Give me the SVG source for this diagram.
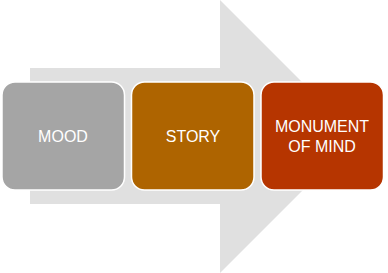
<svg xmlns="http://www.w3.org/2000/svg" width="388" height="273" viewBox="0 0 388 273">
<style>
.box{stroke:#ffffff;stroke-width:1.5}
.lbl{font-family:"Liberation Sans","Open Sans",sans-serif;font-size:16px;fill:#ffffff;text-anchor:middle}
</style>
<rect width="388" height="273" fill="#ffffff"/>
<g id="arrow">
<polygon points="30,68 220,68 220,0 356.5,136.5 220,273 220,204 30,204" fill="#e0e0e0"/>
</g>
<g id="connectors"></g>
<g id="mood">
<rect class="box" x="2" y="82" width="122.5" height="108" rx="13" fill="#a5a5a5"/>
<text class="lbl" x="63" y="142">MOOD</text>
</g>
<g id="story">
<rect class="box" x="131.5" y="82" width="122.5" height="108" rx="13" fill="#ae6400"/>
<text class="lbl" x="193" y="142">STORY</text>
</g>
<g id="monument">
<rect class="box" x="261" y="82" width="122.5" height="108" rx="13" fill="#b63500"/>
<text class="lbl" x="322" y="132">MONUMENT</text>
<text class="lbl" x="322" y="152">OF MIND</text>
</g>
</svg>
